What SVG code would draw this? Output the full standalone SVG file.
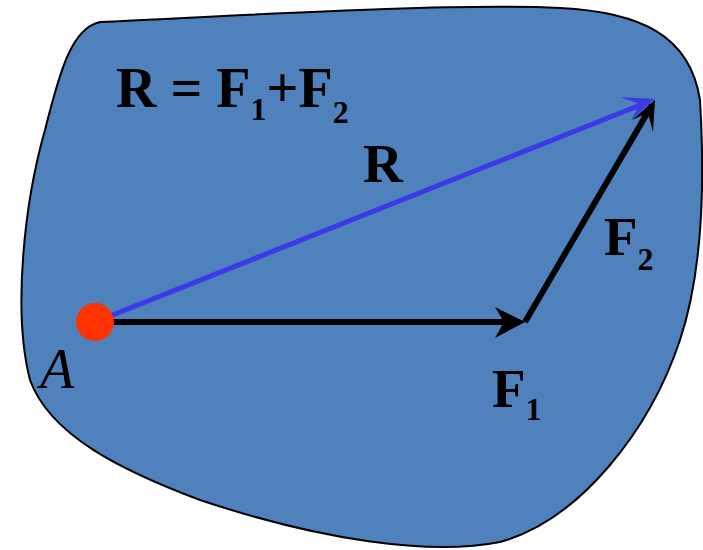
<svg xmlns="http://www.w3.org/2000/svg" width="703" height="550" viewBox="0 0 703 550">
<style>
.lbl{font-family:"Liberation Serif","Times New Roman",serif;font-weight:bold;fill:#000;font-size:55px}
.sub{font-size:32px}
.it{font-family:"Liberation Serif","Times New Roman",serif;font-style:italic;fill:#000;font-size:56px}
.shaft{fill:none;stroke-linecap:butt}
</style>
<rect width="703" height="550" fill="#fff"/>
<g id="body">
<path d="M100,22 C250,15 450,3 560,8 C640,12 690,35 700,100 C706,200 700,280 680,340 C650,430 580,520 500,542 C430,556 320,540 200,500 C120,470 50,435 30,380 C12,310 25,200 45,130 C60,70 72,28 100,22 Z" fill="#4F81BD" stroke="#000" stroke-width="2"/>
</g>
<g id="formula">
<text class="lbl" x="116" y="107" style="font-size:56px">R = F<tspan class="sub" dy="13">1</tspan><tspan dy="-13">+F</tspan><tspan class="sub" dy="16">2</tspan></text>
</g>
<g id="connectors">
<line class="shaft" x1="95" y1="322" x2="520" y2="322" stroke="#000" stroke-width="6"/>
<path d="M525,322 L495,307 L504,322 L495,338 Z" fill="#000"/>
<line class="shaft" x1="525" y1="322" x2="652" y2="105" stroke="#000" stroke-width="6"/>
<path d="M655,100 L653,132 L648,113 L632,120 Z" fill="#000"/>
<line class="shaft" x1="95" y1="322" x2="648" y2="102" stroke="#3A3AE6" stroke-width="5"/>
<path d="M655,99 L631,120 L640,104 L620,97 Z" fill="#3A3AE6"/>
</g>
<g id="pointA">
<circle cx="95" cy="322" r="19" fill="#FF3300"/>
<text class="it" x="40" y="388">A</text>
</g>
<g id="labelR"><text class="lbl" x="363" y="182">R</text></g>
<g id="labelF2"><text class="lbl" x="604" y="255">F<tspan class="sub" dy="15">2</tspan></text></g>
<g id="labelF1"><text class="lbl" x="492" y="407">F<tspan class="sub" dy="13">1</tspan></text></g>
</svg>
